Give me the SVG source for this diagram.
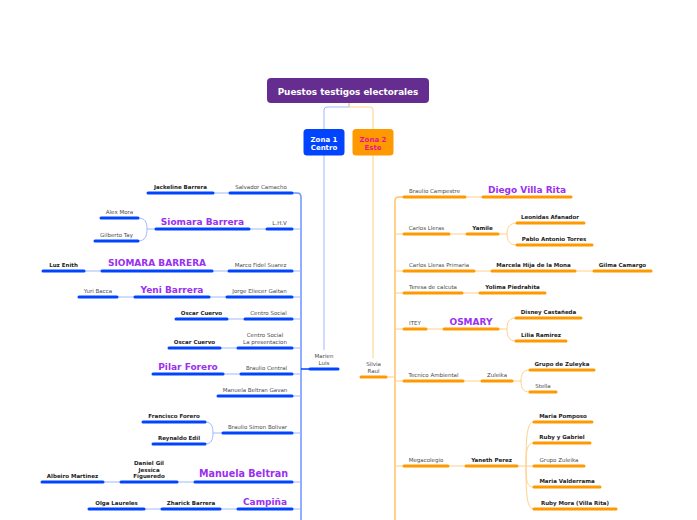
<svg xmlns="http://www.w3.org/2000/svg" width="697" height="520" viewBox="0 0 697 520">
<style>
text{font-family:"DejaVu Sans",Verdana,sans-serif;text-anchor:middle}
.s{font-size:5.5px;fill:#4a4a4a}
.b{font-size:5.5px;font-weight:bold;fill:#222}
.p{font-size:9px;font-weight:bold;fill:#9b30f0}
.ub{stroke:#0044ff;stroke-width:3;stroke-linecap:round}
.uo{stroke:#ff9900;stroke-width:3;stroke-linecap:round}
.cb{stroke:#9fb8ff;stroke-width:1;fill:none}
.co{stroke:#ffd08a;stroke-width:1;fill:none}
.tb{stroke:#6f93ff;stroke-width:1.5;fill:none}
.to{stroke:#ffc266;stroke-width:1.5;fill:none}
</style>
<rect width="697" height="520" fill="#fff"/>
<g id="connectors">
<path class="cb" d="M349,103 V107 H327 Q324,107 324,110 V129"/>
<path class="co" d="M349,103 V107 H370 Q373,107 373,110 V129"/>
<path class="cb" d="M324,155 V350"/>
<path class="co" d="M373,155 V358"/>
<path class="tb" d="M292,193 H297 Q301,193 301,197 V520"/>
<path class="tb" d="M301,369 H310" style="stroke:#0044ff"/>
<path class="cb" d="M292,229 H301 M292,271 H301 M292,297 H301 M292,319 H301 M292,348 H301 M292,374 H301 M292,396 H301 M292,433 H301 M292,482 H301 M292,509 H301"/>
<path class="cb" d="M213,193 H230 M249,229 H267 M212,271 H229 M84,271 H102 M209,297 H227 M117,297 H135 M227,319 H245 M220,348 H238 M223,374 H241 M177,482 H195 M103,482 H121 M220,509 H238 M144,509 H162"/>
<path class="cb" d="M156,229 H147 M138,218 C145,218 147,222 147,229 C147,236 145,241 138,241"/>
<path class="cb" d="M223,433 H213 M205,422 C211,422 213,426 213,433 C213,440 211,444 205,444"/>
<path class="to" d="M404,197 H399 Q395,197 395,201 V520"/>
<path class="co" d="M386,377 H395"/>
<path class="co" d="M395,234 H404 M395,271 H404 M395,293 H404 M395,329 H404 M395,381 H404 M395,466 H404"/>
<path class="co" d="M465,197 H483 M449,234 H467 M474,271 H492 M575,271 H594 M462,293 H480 M426,329 H444 M463,381 H482 M448,466 H466"/>
<path class="co" d="M498,234 H507 M517,223 C510,223 507,227 507,234 C507,241 510,245 517,245"/>
<path class="co" d="M498,329 H507 M516,318 C509,318 507,322 507,329 C507,336 509,341 516,341"/>
<path class="co" d="M512,381 H521 M530,370 C523,370 521,374 521,381 C521,388 523,392 530,392"/>
<path class="co" d="M517,466 H534 M526,466 C526,436 527,422 534,422 M526,466 C526,450 527,443 534,443 M526,466 C526,482 527,487 534,487 M526,466 C526,496 527,509 534,509"/>
</g>
<g id="root">
<rect x="267" y="78" width="162" height="25" rx="4" fill="#652d90"/>
<text x="348" y="95" style="font-size:8.8px;font-weight:bold;fill:#fff">Puestos testigos electorales</text>
</g>
<g id="zona1">
<rect x="303.5" y="129" width="41" height="26.5" rx="3.5" fill="#0044ff"/>
<text x="324" y="141.5" style="font-size:7px;font-weight:bold;fill:#fff">Zona 1</text>
<text x="324" y="150.3" style="font-size:7px;font-weight:bold;fill:#fff">Centro</text>
</g>
<g id="zona2">
<rect x="352.5" y="129" width="41" height="26.5" rx="3.5" fill="#ff9900"/>
<text x="373" y="141.5" style="font-size:7px;font-weight:bold;fill:#e8168a">Zona 2</text>
<text x="373" y="150.3" style="font-size:7px;font-weight:bold;fill:#e8168a">Este</text>
</g>
<g id="marien"><text class="s" x="324" y="358">Marien</text><text class="s" x="324" y="365">Luis</text><line class="ub" x1="310" y1="369" x2="338" y2="369"/></g>
<g id="silvia"><text class="s" x="373.5" y="366">Silvia</text><text class="s" x="373.5" y="373">Raul</text><line class="uo" x1="361" y1="377" x2="386" y2="377"/></g>
<g id="salvador"><text class="s" x="261" y="188.5">Salvador Camacho</text><line class="ub" x1="230" y1="193" x2="292" y2="193"/></g>
<g id="jackeline"><text class="b" x="180.5" y="188.5">Jackeline Barrera</text><line class="ub" x1="148" y1="193" x2="213" y2="193"/></g>
<g id="lhv"><text class="s" x="279.5" y="224.5">L.H.V</text><line class="ub" x1="267" y1="229" x2="292" y2="229"/></g>
<g id="siomara1"><text class="p" x="202.5" y="224.5">Siomara Barrera</text><line class="ub" x1="156" y1="229" x2="249" y2="229"/></g>
<g id="alex"><text class="s" x="119.5" y="213.5">Alex Mora</text><line class="ub" x1="101" y1="218" x2="138" y2="218"/></g>
<g id="gilberto"><text class="s" x="116.5" y="236.5">Gilberto Tay</text><line class="ub" x1="95" y1="241" x2="138" y2="241"/></g>
<g id="marco"><text class="s" x="260.5" y="266.5">Marco Fidel Suarez</text><line class="ub" x1="229" y1="271" x2="292" y2="271"/></g>
<g id="siomara2"><text class="p" x="157" y="266">SIOMARA BARRERA</text><line class="ub" x1="102" y1="271" x2="212" y2="271"/></g>
<g id="luz"><text class="b" x="63.5" y="266.5">Luz Enith</text><line class="ub" x1="43" y1="271" x2="84" y2="271"/></g>
<g id="jorge"><text class="s" x="259.5" y="292.5">Jorge Eliecer Gaitan</text><line class="ub" x1="227" y1="297" x2="292" y2="297"/></g>
<g id="yeni"><text class="p" x="172" y="292.5">Yeni Barrera</text><line class="ub" x1="135" y1="297" x2="209" y2="297"/></g>
<g id="yuri"><text class="s" x="98" y="292.5">Yuri Bacca</text><line class="ub" x1="79" y1="297" x2="117" y2="297"/></g>
<g id="centro1"><text class="s" x="268.5" y="314.5">Centro Social</text><line class="ub" x1="245" y1="319" x2="292" y2="319"/></g>
<g id="oscar1"><text class="b" x="201.5" y="314.5">Oscar Cuervo</text><line class="ub" x1="176" y1="319" x2="227" y2="319"/></g>
<g id="centro2"><text class="s" x="265" y="337">Centro Social</text><text class="s" x="265" y="343.5">La presentacion</text><line class="ub" x1="238" y1="348" x2="292" y2="348"/></g>
<g id="oscar2"><text class="b" x="194.5" y="343.5">Oscar Cuervo</text><line class="ub" x1="169" y1="348" x2="220" y2="348"/></g>
<g id="braulio-central"><text class="s" x="266.5" y="369.5">Braulio Central</text><line class="ub" x1="241" y1="374" x2="292" y2="374"/></g>
<g id="pilar"><text class="p" x="188" y="369.5">Pilar Forero</text><line class="ub" x1="153" y1="374" x2="223" y2="374"/></g>
<g id="manuela-gavan"><text class="s" x="255" y="391.5">Manuela Beltran Gavan</text><line class="ub" x1="218" y1="396" x2="292" y2="396"/></g>
<g id="braulio-simon"><text class="s" x="257.5" y="428.5">Braulio Simon Bolivar</text><line class="ub" x1="223" y1="433" x2="292" y2="433"/></g>
<g id="francisco"><text class="b" x="174" y="417.5">Francisco Forero</text><line class="ub" x1="143" y1="422" x2="205" y2="422"/></g>
<g id="reynaldo"><text class="b" x="179" y="439.5">Reynaldo Edil</text><line class="ub" x1="153" y1="444" x2="205" y2="444"/></g>
<g id="manuela-beltran"><text class="p" x="243.5" y="477" style="font-size:9.6px">Manuela Beltran</text><line class="ub" x1="195" y1="482" x2="292" y2="482"/></g>
<g id="daniel"><text class="b" x="149" y="465">Daniel Gil</text><text class="b" x="149" y="471.5">Jessica</text><text class="b" x="149" y="478">Figueredo</text><line class="ub" x1="121" y1="482" x2="177" y2="482"/></g>
<g id="albeiro"><text class="b" x="72.5" y="477.5">Albeiro Martinez</text><line class="ub" x1="42" y1="482" x2="103" y2="482"/></g>
<g id="campina"><text class="p" x="265" y="504.5">Campiña</text><line class="ub" x1="238" y1="509" x2="292" y2="509"/></g>
<g id="zharick"><text class="b" x="191" y="504.5">Zharick Barrera</text><line class="ub" x1="162" y1="509" x2="220" y2="509"/></g>
<g id="olga"><text class="b" x="116.5" y="504.5">Olga Laureles</text><line class="ub" x1="89" y1="509" x2="144" y2="509"/></g>
<g id="braulio-campestre"><text class="s" x="434.5" y="192.5">Braulio Campestre</text><line class="uo" x1="404" y1="197" x2="465" y2="197"/></g>
<g id="diego"><text class="p" x="527" y="192.5">Diego Villa Rita</text><line class="uo" x1="483" y1="197" x2="571" y2="197"/></g>
<g id="carlos-lleras"><text class="s" x="426.5" y="229.5">Carlos Lleras</text><line class="uo" x1="404" y1="234" x2="449" y2="234"/></g>
<g id="yamile"><text class="b" x="482.5" y="229.5">Yamile</text><line class="uo" x1="467" y1="234" x2="498" y2="234"/></g>
<g id="leonidas"><text class="b" x="550" y="218.5">Leonidas Afanador</text><line class="uo" x1="517" y1="223" x2="584" y2="223"/></g>
<g id="pablo"><text class="b" x="554" y="240.5">Pablo Antonio Torres</text><line class="uo" x1="517" y1="245" x2="592" y2="245"/></g>
<g id="carlos-primaria"><text class="s" x="439" y="266.5">Carlos Lleras Primaria</text><line class="uo" x1="404" y1="271" x2="474" y2="271"/></g>
<g id="marcela"><text class="b" x="533.5" y="266.5">Marcela Hija de la Mona</text><line class="uo" x1="492" y1="271" x2="575" y2="271"/></g>
<g id="gilma"><text class="b" x="622.5" y="266.5">Gilma Camargo</text><line class="uo" x1="594" y1="271" x2="651" y2="271"/></g>
<g id="teresa"><text class="s" x="433" y="288.5">Teresa de calcuta</text><line class="uo" x1="404" y1="293" x2="462" y2="293"/></g>
<g id="yolima"><text class="b" x="512.5" y="288.5">Yolima Piedrahita</text><line class="uo" x1="480" y1="293" x2="545" y2="293"/></g>
<g id="itey"><text class="s" x="415" y="324.5">ITEY</text><line class="uo" x1="404" y1="329" x2="426" y2="329"/></g>
<g id="osmary"><text class="p" x="471" y="324.5">OSMARY</text><line class="uo" x1="444" y1="329" x2="498" y2="329"/></g>
<g id="disney"><text class="b" x="548.5" y="313.5">Disney Castañeda</text><line class="uo" x1="516" y1="318" x2="581" y2="318"/></g>
<g id="lilia"><text class="b" x="541" y="336.5">Lilia Ramirez</text><line class="uo" x1="516" y1="341" x2="566" y2="341"/></g>
<g id="tecnico"><text class="s" x="433.5" y="376.5">Tecnico Ambiental</text><line class="uo" x1="404" y1="381" x2="463" y2="381"/></g>
<g id="zuleika"><text class="s" x="497" y="376.5">Zuleika</text><line class="uo" x1="482" y1="381" x2="512" y2="381"/></g>
<g id="grupo-zuleyka"><text class="b" x="562" y="365.5">Grupo de Zuleyka</text><line class="uo" x1="530" y1="370" x2="594" y2="370"/></g>
<g id="stella"><text class="s" x="543" y="387.5">Stella</text><line class="uo" x1="530" y1="392" x2="556" y2="392"/></g>
<g id="megacolegio"><text class="s" x="426" y="461.5">Megacolegio</text><line class="uo" x1="404" y1="466" x2="448" y2="466"/></g>
<g id="yaneth"><text class="b" x="491.5" y="461.5">Yaneth Perez</text><line class="uo" x1="466" y1="466" x2="517" y2="466"/></g>
<g id="maria-pomposo"><text class="b" x="563" y="417.5">Maria Pomposo</text><line class="uo" x1="534" y1="422" x2="592" y2="422"/></g>
<g id="ruby-gabriel"><text class="b" x="562" y="438.5">Ruby y Gabriel</text><line class="uo" x1="534" y1="443" x2="590" y2="443"/></g>
<g id="grupo-zuleika"><text class="s" x="559" y="461.5">Grupo Zuleika</text><line class="uo" x1="534" y1="466" x2="584" y2="466"/></g>
<g id="maria-valderrama"><text class="b" x="567" y="482.5">Maria Valderrama</text><line class="uo" x1="534" y1="487" x2="600" y2="487"/></g>
<g id="ruby-mora"><text class="b" x="575" y="504.5">Ruby Mora (Villa Rita)</text><line class="uo" x1="534" y1="509" x2="616" y2="509"/></g>
</svg>
